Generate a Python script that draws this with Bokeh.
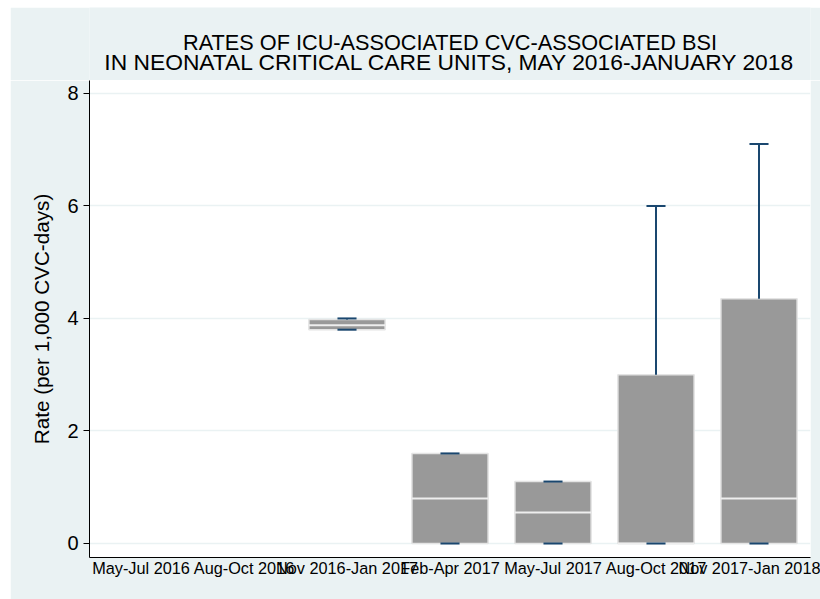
from bokeh.plotting import figure
from bokeh.models import FixedTicker, Range1d, Spacer
from bokeh.layouts import column, row
from bokeh.core.properties import value
from bokeh.embed import file_html
from bokeh.resources import INLINE

# ---- data ----
categories = ["May-Jul 2016", "Aug-Oct 2016", "Nov 2016-Jan 2017", "Feb-Apr 2017",
              "May-Jul 2017", "Aug-Oct 2017", "Nov 2017-Jan 2018"]
box_pos = [3, 4, 5, 6, 7]
q1 = [3.80, 0.0, 0.0, 0.0, 0.0]
median = [3.88, 0.80, 0.55, 0.0, 0.80]
q3 = [3.98, 1.60, 1.10, 3.00, 4.35]
lower_adj = [3.80, 0.0, 0.0, 0.0, 0.0]
upper_adj = [4.00, 1.60, 1.10, 6.00, 7.10]
y_ticks = [0, 2, 4, 6, 8]
title_lines = ["RATES OF ICU-ASSOCIATED CVC-ASSOCIATED BSI",
               "IN NEONATAL CRITICAL CARE UNITS, MAY 2016-JANUARY 2018"]

FONT = "Liberation Sans"
BG = "#EAF2F3"
BOX_W = 0.74
CAP_W = 0.185
X_RANGE = (0.5, 7.5)
Y_MIN, Y_MAX = -0.25, 8.23
W = 810
TITLE_H = 73

# ---- title strip (same horizontal frame as the plot) ----
tf = figure(width=W, height=TITLE_H, output_backend="svg", toolbar_location=None,
            x_range=Range1d(*X_RANGE), y_range=Range1d(0, TITLE_H),
            x_axis_type=None, y_axis_type=None,
            min_border_left=79, min_border_right=10, min_border_top=0, min_border_bottom=0)
tf.border_fill_color = BG
tf.background_fill_color = BG
tf.outline_line_color = None
tf.grid.visible = False
title_sizes = ["21.7px", "22.8px"]
title_baselines = [38, 18.5]   # px above the bottom of the strip
for line, size, base in zip(title_lines, title_sizes, title_baselines):
    tf.text(x=[(X_RANGE[0] + X_RANGE[1]) / 2], y=[base], text=[line],
            text_align="center", text_baseline="alphabetic",
            text_font=value(FONT), text_font_size=value(size), text_color="black")

# ---- main plot ----
p = figure(width=W, height=592 - TITLE_H, output_backend="svg", toolbar_location=None,
           x_range=Range1d(*X_RANGE), y_range=Range1d(Y_MIN, Y_MAX),
           min_border_left=79, min_border_right=10, min_border_top=0, min_border_bottom=42)
p.border_fill_color = BG
p.background_fill_color = "white"
p.outline_line_color = None

# axes
p.xaxis.ticker = FixedTicker(ticks=list(range(1, len(categories) + 1)))
p.xaxis.major_label_overrides = {i + 1: c for i, c in enumerate(categories)}
p.xaxis.major_tick_out = 0
p.xaxis.major_tick_in = 0
p.xaxis.minor_tick_line_color = None
p.xaxis.major_label_text_font = FONT
p.xaxis.major_label_text_font_size = "16.3px"
p.xaxis.major_label_text_color = "black"
p.xaxis.major_label_standoff = 1
p.xaxis.axis_line_color = "black"

p.yaxis.ticker = FixedTicker(ticks=y_ticks)
p.yaxis.major_tick_out = 6
p.yaxis.major_tick_in = 0
p.yaxis.minor_tick_line_color = None
p.yaxis.major_tick_line_color = "black"
p.yaxis.axis_line_color = "black"
p.yaxis.major_label_text_font = FONT
p.yaxis.major_label_text_font_size = "20px"
p.yaxis.major_label_text_color = "black"
p.yaxis.major_label_standoff = 5
p.yaxis.axis_label = "Rate (per 1,000 CVC-days)"
p.yaxis.axis_label_text_font = FONT
p.yaxis.axis_label_text_font_size = "20.7px"
p.yaxis.axis_label_text_font_style = "normal"
p.yaxis.axis_label_text_color = "black"
p.yaxis.axis_label_standoff = 11

p.xgrid.grid_line_color = None
p.ygrid.grid_line_color = BG
p.ygrid.grid_line_width = 1.5

# boxes
p.vbar(x=box_pos, width=BOX_W, bottom=q1, top=q3, fill_color="#999999",
       line_color="#e4e4e4", line_width=1.5)
# medians
p.segment(x0=[x - BOX_W / 2 for x in box_pos], x1=[x + BOX_W / 2 for x in box_pos],
          y0=median, y1=median, line_color="#eeeeee", line_width=2)
# whiskers
p.segment(x0=box_pos, x1=box_pos, y0=q3, y1=upper_adj, line_color="#1a476f", line_width=2)
p.segment(x0=box_pos, x1=box_pos, y0=q1, y1=lower_adj, line_color="#1a476f", line_width=2)
# caps
p.segment(x0=[x - CAP_W / 2 for x in box_pos], x1=[x + CAP_W / 2 for x in box_pos],
          y0=upper_adj, y1=upper_adj, line_color="#1a476f", line_width=2)
p.segment(x0=[x - CAP_W / 2 for x in box_pos], x1=[x + CAP_W / 2 for x in box_pos],
          y0=lower_adj, y1=lower_adj, line_color="#1a476f", line_width=2)

page = column(Spacer(height=7), row(Spacer(width=10), column(tf, p)))
open("out.html", "w").write(file_html(page, INLINE))
